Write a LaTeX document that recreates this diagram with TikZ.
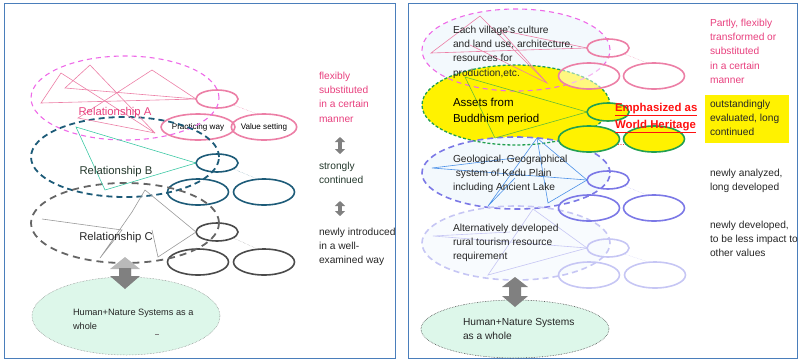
\documentclass[tikz,border=0pt]{standalone}
\usepackage{fontspec}
\setmainfont{Liberation Sans}
\usetikzlibrary{shapes,arrows.meta,positioning,calc}

\definecolor{frameblue}{HTML}{4A7EBB}
\definecolor{dashmag}{HTML}{EE6AE8}
\definecolor{pinkline}{HTML}{EC7FA6}
\definecolor{pinktext}{HTML}{E8407E}
\definecolor{tealdark}{HTML}{1D5B78}
\definecolor{tealline}{HTML}{3CC8A4}
\definecolor{darkgrey}{HTML}{4A4A4A}
\definecolor{greyline}{HTML}{9A9A9A}
\definecolor{textgrey}{HTML}{262626}
\definecolor{greentext}{HTML}{24382C}
\definecolor{mintfill}{HTML}{DDF7EA}
\definecolor{paleblue}{HTML}{F3F9FD}
\definecolor{greenedge}{HTML}{22A050}
\definecolor{violetedge}{HTML}{7B78E6}
\definecolor{lavedge}{HTML}{C6C6F4}
\definecolor{blueline}{HTML}{4A90E8}
\definecolor{heritage}{HTML}{FF1010}

\begin{document}
\begin{tikzpicture}
[
	x=1pt, y=-1pt,
	every node/.style={inner sep=0pt, outer sep=0pt},
	big/.style={ellipse, minimum width=188pt, minimum height=82pt},
	small/.style={ellipse, line width=1.6pt, minimum width=42pt, minimum height=18pt},
	wide/.style={ellipse, line width=1.6pt, minimum width=61pt, minimum height=26pt},
	dots/.style={densely dotted, line width=0.4pt},
	txt/.style={font=\fontsize{10.2}{14.3}\selectfont, align=left, anchor=north west, text=textgrey},
	rel/.style={font=\fontsize{11.3}{13}\selectfont},
	twoway/.style={draw=gray, line width=4pt, {Triangle[width=10pt,length=5pt]}-{Triangle[width=10pt,length=5pt]}},
	blockup/.style={fill=gray!55, draw=none},
	blockdown/.style={fill=gray, draw=none},
]
	\useasboundingbox (0,0) rectangle (801,360);

	% left panel
	\draw[frameblue, line width=0.8pt] (4,3) rectangle (395,358);

	\node[small, draw=pinkline] (pa) at (217,99) {};
	\node[wide, draw=pinkline, font=\fontsize{8.1}{9}\selectfont] (pb) at (198,127) {Practicing way};
	\node[wide, draw=pinkline, font=\fontsize{8.1}{9}\selectfont] (pc) at (264,127) {Value setting};
	\node[small, draw=tealdark] (ba) at (217,163) {};
	\node[wide, draw=tealdark] (bb) at (198,192) {};
	\node[wide, draw=tealdark] (bc) at (264,192) {};
	\node[small, draw=darkgrey] (ca) at (217,232) {};
	\node[wide, draw=darkgrey] (cb) at (198,262) {};
	\node[wide, draw=darkgrey] (cc) at (264,262) {};

	\draw[dots, pinkline] (pa.-20) -- (pc.115);
	\draw[dots, tealdark!60] (ba.-20) -- (bc.115);
	\draw[dots, greyline] (ca.-20) -- (cc.115);

	\node[big, minimum height=84pt, draw=dashmag, line width=1.1pt, dash pattern=on 5pt off 4pt] (relA) at (125,98) {};
	\node[big, minimum height=80pt, draw=tealdark, line width=1.8pt, dash pattern=on 6pt off 4pt] (relB) at (125,157) {};
	\node[big, minimum height=80pt, draw=darkgrey!85, line width=1.8pt, dash pattern=on 7pt off 5pt] (relC) at (125,223) {};

	\draw[pinkline, line width=0.6pt] (pa.west) -- (41,103) -- (61,73) -- (155,133);
	\draw[pinkline, line width=0.6pt] (pa.west) -- (65,88) -- (90,65) -- (155,133);
	\draw[pinkline, line width=0.6pt] (pa.west) -- (152,70) -- (78,118) -- (155,133);
	\draw[tealline, line width=0.6pt] (ba.west) -- (76,127) -- (105,190) -- (ba.west);
	\draw[greyline, line width=0.6pt] (ca.west) -- (145,190) -- (132,212) -- (100,258) -- (122,230) -- (42,219);
	\draw[greyline, line width=0.6pt] (ca.west) -- (158,257) -- (152,230);

	\node[rel, text=pinktext] (labA) at (115,113) {Relationship A};
	\node[rel, text=greentext] (labB) at (116,172) {Relationship B};
	\node[rel, text=textgrey] (labC) at (116,238) {Relationship C};

	\node[txt, text=pinktext] (flex) at (319,72) {flexibly\\substituted\\in a certain\\manner};
	\node[txt, text=greentext] (strong) at (319,162) {strongly\\continued};
	\node[txt] (newin) at (319,228) {newly introduced\\in a well-\\examined way};
	\coordinate (upA) at (340,137);
	\coordinate (dnA) at (340,154);
	\coordinate (upB) at (340,201);
	\coordinate (dnB) at (340,216);
	\draw[twoway] (upA) -- (dnA);
	\draw[twoway] (upB) -- (dnB);

	\node[ellipse, minimum width=188pt, minimum height=78pt, fill=mintfill, draw=gray, densely dotted, line width=0.5pt] (humL) at (126,316) {};
	\node[anchor=north west, align=left, font=\fontsize{9.2}{14}\selectfont, text=textgrey] (humLt) at (73,309) {Human+Nature Systems as a\\whole};
	\draw[gray, line width=0.5pt] (155,334) -- (159,334);
	\path[blockup] (125,257) -- (140,269) -- (131,269) -- (131,276) -- (119,276) -- (119,269) -- (110,269) -- cycle;
	\path[blockdown] (119,268) -- (131,268) -- (131,276) -- (140,276) -- (125,289) -- (110,276) -- (119,276) -- cycle;

	% right panel
	\draw[frameblue, line width=0.8pt] (408,3) rectangle (797,358);

	\node[big, fill=paleblue] (topR) at (516,50) {};
	\node[big, minimum height=80pt, fill=yellow] (budR) at (516,105) {};
	\node[big, minimum height=72pt, fill=paleblue] (geoR) at (516,173) {};
	\node[big, minimum height=74pt, fill=paleblue!60] (altR) at (516,243) {};
	\draw[dashmag, line width=1.1pt, dash pattern=on 5pt off 4pt] (topR.center) ellipse [x radius=94pt, y radius=41pt];
	\draw[greenedge, line width=1.3pt, dash pattern=on 3pt off 2pt] (budR.center) ellipse [x radius=94pt, y radius=40pt];
	\draw[violetedge, line width=1.6pt, dash pattern=on 6pt off 4pt] (geoR.center) ellipse [x radius=94pt, y radius=36pt];
	\draw[lavedge, line width=1.6pt, dash pattern=on 6pt off 4pt] (altR.center) ellipse [x radius=94pt, y radius=37pt];

	\node[small, draw=pinkline] (rpa) at (608,48) {};
	\node[wide, draw=pinkline, fill=white, fill opacity=0.5] (rpb) at (589,76) {};
	\node[wide, draw=pinkline] (rpc) at (654,76) {};
	\node[small, draw=greenedge, fill=yellow] (rya) at (608,112) {};
	\node[wide, draw=greenedge, fill=yellow] (ryb) at (589,139) {};
	\node[wide, draw=greenedge, fill=yellow] (ryc) at (654,139) {};
	\node[small, draw=violetedge] (rva) at (608,180) {};
	\node[wide, draw=violetedge] (rvb) at (589,208) {};
	\node[wide, draw=violetedge] (rvc) at (654,208) {};
	\node[small, draw=lavedge] (rla) at (608,248) {};
	\node[wide, draw=lavedge] (rlb) at (589,275) {};
	\node[wide, draw=lavedge] (rlc) at (655,275) {};

	\draw[dots, pinkline] (rpa.-20) -- (rpc.115);
	\draw[dots, violetedge!60] (rva.-20) -- (rvc.115);
	\draw[dots, lavedge] (rla.-20) -- (rlc.115);

	\draw[pinkline, line width=0.6pt] (rpa.west) -- (431,53) -- (480,16) -- (547,83) -- (470,45);
	\draw[pinkline, line width=0.6pt] (rpa.west) -- (500,30) -- (547,83);
	\draw[greenedge!70!yellow, line width=0.6pt] (rya.west) -- (465,77) -- (495,138) -- (rya.west);
	\draw[blueline, line width=0.6pt] (rva.west) -- (432,168) -- (515,158);
	\draw[blueline, line width=0.6pt] (rva.west) -- (537,138) -- (488,206) -- (515,178);
	\draw[blueline, line width=0.6pt] (rva.west) -- (548,203) -- (537,138);
	\draw[lavedge, line width=0.6pt] (rla.west) -- (433,236) -- (510,232);
	\draw[lavedge, line width=0.6pt] (rla.west) -- (533,209) -- (488,275) -- (rla.west);

	\node[txt] (village) at (453,26) {Each village’s culture\\and land use, architecture,\\resources for\\production,etc.};
	\node[txt, font=\fontsize{11.5}{16}\selectfont, text=black] (assets) at (453,98) {Assets from\\Buddhism period};
	\node[txt] (geo) at (453,155) {Geological, Geographical\\\ system of Kedu Plain\\including Ancient Lake};
	\node[txt] (alt) at (453,224) {Alternatively developed\\rural tourism resource\\requirement};

	\node[txt, font=\fontsize{11.4}{17}\selectfont\bfseries, text=heritage] (whc) at (615,103) {\underline{Emphasized as}\\\underline{World Heritage}};
	\node[font=\fontsize{9}{10}\selectfont, text=heritage] (etc) at (621,145) {...};

	\node[txt, text=pinktext] (partly) at (710,19) {Partly, flexibly\\transformed or\\substituted\\in a certain\\manner};
	\fill[yellow] (705,95) rectangle (789,143);
	\node[txt] (outst) at (710,100) {outstandingly\\evaluated, long\\continued};
	\node[txt] (analy) at (710,169) {newly analyzed,\\long developed};
	\node[txt] (devel) at (710,221) {newly developed,\\to be less impact to\\other values};

	\node[ellipse, minimum width=188pt, minimum height=58pt, fill=mintfill, draw=darkgrey, densely dotted, line width=0.6pt] (humR) at (515,329) {};
	\node[txt] (humRt) at (463,318) {Human+Nature Systems\\as a whole};
	\path[blockdown] (515,277) -- (528,287) -- (521,287) -- (521,296) -- (528,296) -- (515,307)
		-- (502,296) -- (509,296) -- (509,287) -- (502,287) -- cycle;
\end{tikzpicture}
\end{document}
